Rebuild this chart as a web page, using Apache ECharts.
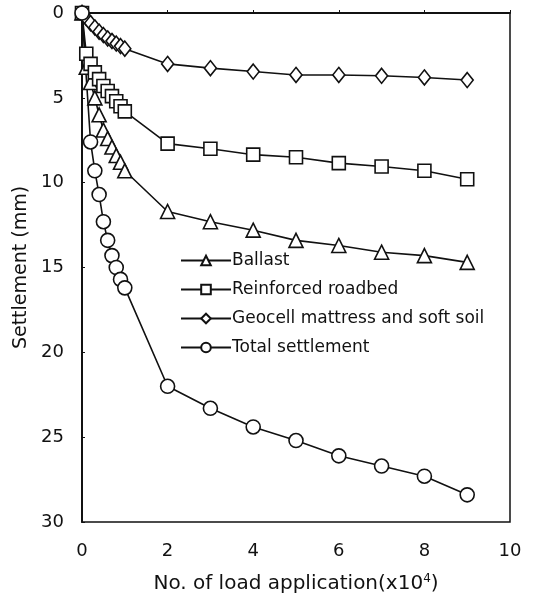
<!DOCTYPE html>
<html>
<head>
<meta charset="utf-8">
<script src="https://cdn.jsdelivr.net/npm/echarts@6/dist/echarts.min.js"></script>
<style>html,body{margin:0;padding:0;background:#fff;}#c{width:534px;height:600px;}</style>
</head>
<body>
<div id="c"></div>
<script>
// x positions (x10^4 load applications)
const xEarly = [0, 0.1, 0.2, 0.3, 0.4, 0.5, 0.6, 0.7, 0.8, 0.9, 1.0];
const xLate = [2, 3, 4, 5, 6, 7, 8, 9];
const xTotal = [0, 0.2, 0.3, 0.4, 0.5, 0.6, 0.7, 0.8, 0.9, 1.0, 2, 3, 4, 5, 6, 7, 8, 9];

// settlement values (mm)
const ballast = [0, 3.2, 4.1, 5.0, 6.0, 6.9, 7.4, 7.9, 8.4, 8.8, 9.3, 11.7, 12.3, 12.8, 13.4, 13.7, 14.1, 14.3, 14.7];
const roadbed = [0, 2.4, 3.0, 3.5, 3.9, 4.3, 4.6, 4.9, 5.2, 5.5, 5.8, 7.7, 8.0, 8.35, 8.5, 8.85, 9.05, 9.3, 9.8];
const geocell = [0, 0.3, 0.6, 0.85, 1.1, 1.3, 1.5, 1.65, 1.8, 1.95, 2.1, 3.0, 3.25, 3.45, 3.65, 3.65, 3.7, 3.8, 3.95];
const total = [0, 7.6, 9.3, 10.7, 12.3, 13.4, 14.3, 15.0, 15.7, 16.2, 22.0, 23.3, 24.4, 25.2, 26.1, 26.7, 27.3, 28.4];

const seriesNames = ['Ballast', 'Reinforced roadbed', 'Geocell mattress and soft soil', 'Total settlement'];
const xTicks = [0, 2, 4, 6, 8, 10];
const yTicks = [0, 5, 10, 15, 20, 25, 30];

const xAll = xEarly.concat(xLate);
const pair = (xs, ys) => xs.map((x, i) => [x, ys[i]]);

const FONT = 'DejaVu Sans, Liberation Sans, Arial, sans-serif';
const mk = (name, data, symbol, size) => ({
  name, type: 'line', data, symbol, symbolSize: size,
  showAllSymbol: true,
  lineStyle: { color: '#111', width: 1.6 },
  itemStyle: { color: '#fff', borderColor: '#111', borderWidth: 1.6 },
  emphasis: { disabled: true },
  animation: false
});

const chart = echarts.init(document.getElementById('c'));
chart.setOption({
  backgroundColor: '#fff',
  animation: false,
  grid: { left: 82, right: 24, top: 13, bottom: 78, show: true, borderColor: '#111', borderWidth: 1.5 },
  xAxis: {
    type: 'value', min: xTicks[0], max: xTicks[xTicks.length - 1], interval: 2,
    name: '{a|No. of load application(x10}{s|4}{a|)}',
    nameLocation: 'middle', nameGap: 51,
    nameTextStyle: { rich: { a: { fontSize: 20, fontFamily: FONT, color: '#111' }, s: { fontSize: 12, fontFamily: FONT, color: '#111', verticalAlign: 'top', padding: [0, 0, 9, 0] } } },
    axisLine: { lineStyle: { color: '#111', width: 2 } },
    axisTick: { inside: true, length: 3, lineStyle: { color: '#111' } },
    axisLabel: { fontSize: 18, fontFamily: FONT, color: '#111', margin: 20 },
    splitLine: { show: false }
  },
  yAxis: {
    type: 'value', inverse: true, min: yTicks[0], max: yTicks[yTicks.length - 1], interval: 5,
    name: 'Settlement (mm)', nameLocation: 'middle', nameGap: 38,
    nameTextStyle: { fontSize: 19, fontFamily: FONT, color: '#111' },
    axisLine: { lineStyle: { color: '#111', width: 2 } },
    axisTick: { inside: true, length: 3, lineStyle: { color: '#111' } },
    axisLabel: { fontSize: 18, fontFamily: FONT, color: '#111', margin: 18 },
    splitLine: { show: false }
  },
  legend: {
    orient: 'vertical', left: 175, top: 247, itemWidth: 50, itemHeight: 12, itemGap: 12,
    data: seriesNames,
    textStyle: { fontSize: 17, fontFamily: FONT, color: '#111', padding: [0, 0, 0, -4] },
    selectedMode: false
  },
  series: [
    mk(seriesNames[0], pair(xAll, ballast), 'triangle', 14),
    mk(seriesNames[1], pair(xAll, roadbed), 'rect', 13),
    mk(seriesNames[2], pair(xAll, geocell), 'diamond', [12, 15]),
    mk(seriesNames[3], pair(xTotal, total), 'circle', 14)
  ]
});
</script>
</body>
</html>
